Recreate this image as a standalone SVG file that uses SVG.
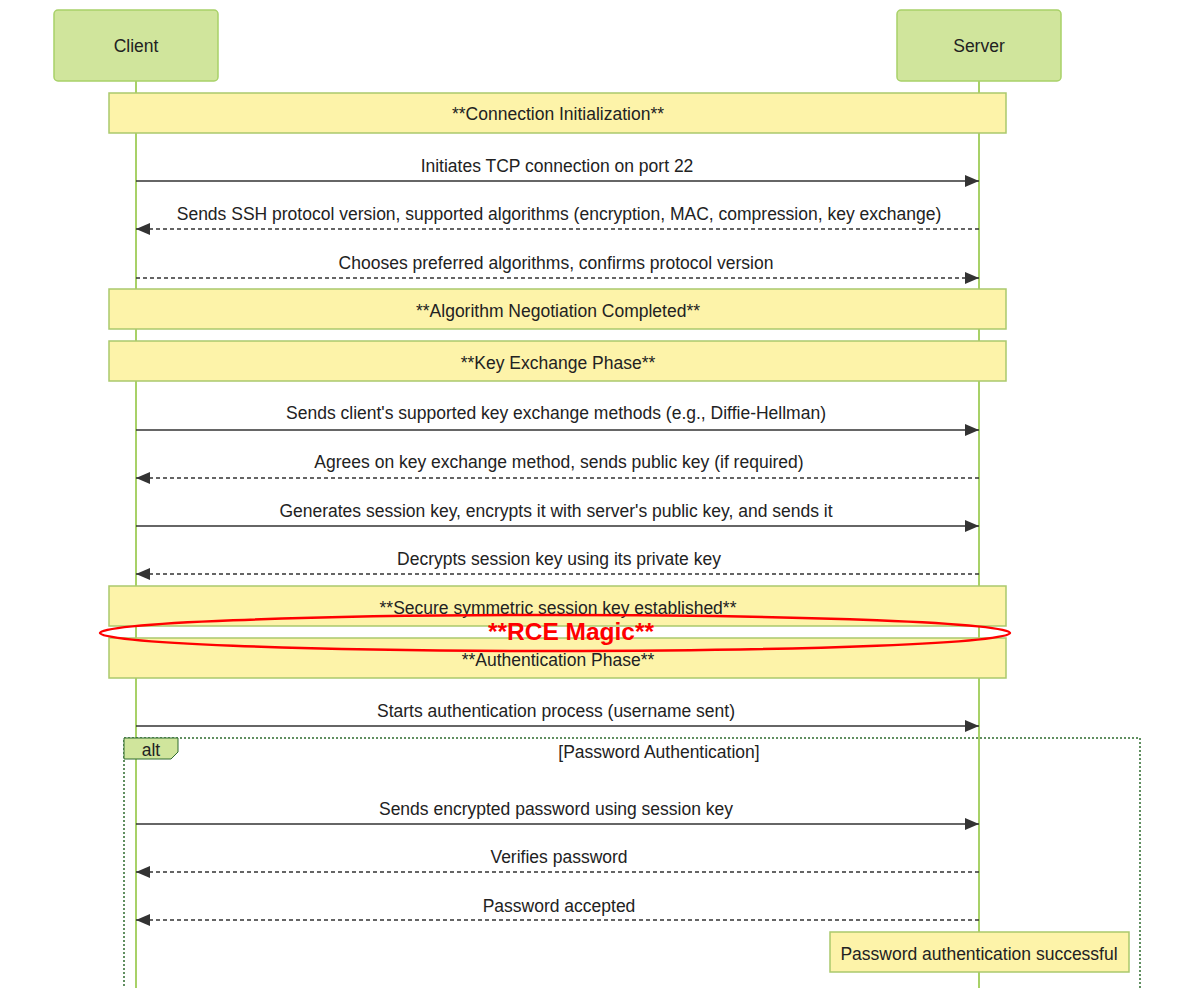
<svg xmlns="http://www.w3.org/2000/svg" width="1199" height="988" viewBox="0 0 1199 988">
<style>
text{font-family:"Liberation Sans",Arial,sans-serif;font-size:17.5px;fill:#222;text-anchor:middle}
.actor{fill:#d0e59c;stroke:#a8d168;stroke-width:1.5}
.life{stroke:#a8d168;stroke-width:2}
.note{fill:#fdf3a9;stroke:#aac96c;stroke-width:1.5}
.msg{stroke:#333;stroke-width:1.5;fill:none}
.dash{stroke-dasharray:4,3}
.frame{fill:none;stroke:#2e6b2e;stroke-width:1.5;stroke-dasharray:2,2}
</style>
<defs>
<marker id="ah" markerWidth="14" markerHeight="12" refX="14" refY="6" orient="auto" markerUnits="userSpaceOnUse">
<path d="M0,0 L14,6 L0,12 z" fill="#333"/>
</marker>
</defs>
<rect width="1199" height="988" fill="#fff"/>
<g id="lifelines">
<line class="life" x1="136" y1="81" x2="136" y2="988"/>
<line class="life" x1="979" y1="81" x2="979" y2="988"/>
</g>
<g id="client"><rect class="actor" x="54" y="10" width="164" height="71" rx="4"/><text x="136" y="52">Client</text></g>
<g id="server"><rect class="actor" x="897" y="10" width="164" height="71" rx="4"/><text x="979" y="52">Server</text></g>
<g id="note-conn"><rect class="note" x="109" y="93" width="897" height="40"/><text x="558" y="120">**Connection Initialization**</text></g>
<g id="note-algo"><rect class="note" x="109" y="289" width="897" height="40"/><text x="558" y="317">**Algorithm Negotiation Completed**</text></g>
<g id="note-kex"><rect class="note" x="109" y="341" width="897" height="40"/><text x="558" y="369">**Key Exchange Phase**</text></g>
<g id="note-secure"><rect class="note" x="109" y="586" width="897" height="40"/><text x="558" y="614">**Secure symmetric session key established**</text></g>
<g id="note-auth"><rect class="note" x="109" y="638" width="897" height="40"/><text x="558" y="666">**Authentication Phase**</text></g>
<g id="alt-frame">
<rect class="frame" x="124" y="738" width="1016" height="260"/>
<path d="M124,738 H178 V752 L171,759 H124 z" fill="#d0e59c" stroke="#2e6b2e" stroke-width="1"/>
<text x="151" y="756">alt</text>
<text x="659" y="758">[Password Authentication]</text>
</g>
<g id="note-success"><rect class="note" x="830" y="932" width="299" height="40"/><text x="979" y="960">Password authentication successful</text></g>
<g id="connectors">
<line class="msg" x1="136" y1="181" x2="979" y2="181" marker-end="url(#ah)"/>
<text x="557" y="172">Initiates TCP connection on port 22</text>
<line class="msg dash" x1="979" y1="229" x2="136" y2="229" marker-end="url(#ah)"/>
<text x="559" y="220">Sends SSH protocol version, supported algorithms (encryption, MAC, compression, key exchange)</text>
<line class="msg dash" x1="136" y1="278" x2="979" y2="278" marker-end="url(#ah)"/>
<text x="556" y="269">Chooses preferred algorithms, confirms protocol version</text>
<line class="msg" x1="136" y1="430" x2="979" y2="430" marker-end="url(#ah)"/>
<text x="556" y="419">Sends client's supported key exchange methods (e.g., Diffie-Hellman)</text>
<line class="msg dash" x1="979" y1="478" x2="136" y2="478" marker-end="url(#ah)"/>
<text x="559" y="468">Agrees on key exchange method, sends public key (if required)</text>
<line class="msg" x1="136" y1="526" x2="979" y2="526" marker-end="url(#ah)"/>
<text x="556" y="517">Generates session key, encrypts it with server's public key, and sends it</text>
<line class="msg dash" x1="979" y1="574" x2="136" y2="574" marker-end="url(#ah)"/>
<text x="559" y="565">Decrypts session key using its private key</text>
<line class="msg" x1="136" y1="726" x2="979" y2="726" marker-end="url(#ah)"/>
<text x="556" y="717">Starts authentication process (username sent)</text>
<line class="msg" x1="136" y1="824" x2="979" y2="824" marker-end="url(#ah)"/>
<text x="556" y="815">Sends encrypted password using session key</text>
<line class="msg dash" x1="979" y1="872" x2="136" y2="872" marker-end="url(#ah)"/>
<text x="559" y="863">Verifies password</text>
<line class="msg dash" x1="979" y1="920" x2="136" y2="920" marker-end="url(#ah)"/>
<text x="559" y="912">Password accepted</text>
</g>
<g id="rce">
<ellipse cx="555" cy="633" rx="455" ry="18" fill="none" stroke="#f00" stroke-width="2.5"/>
<text x="571" y="640" style="fill:#f00;font-weight:bold;font-size:24.5px">**RCE Magic**</text>
</g>
</svg>
